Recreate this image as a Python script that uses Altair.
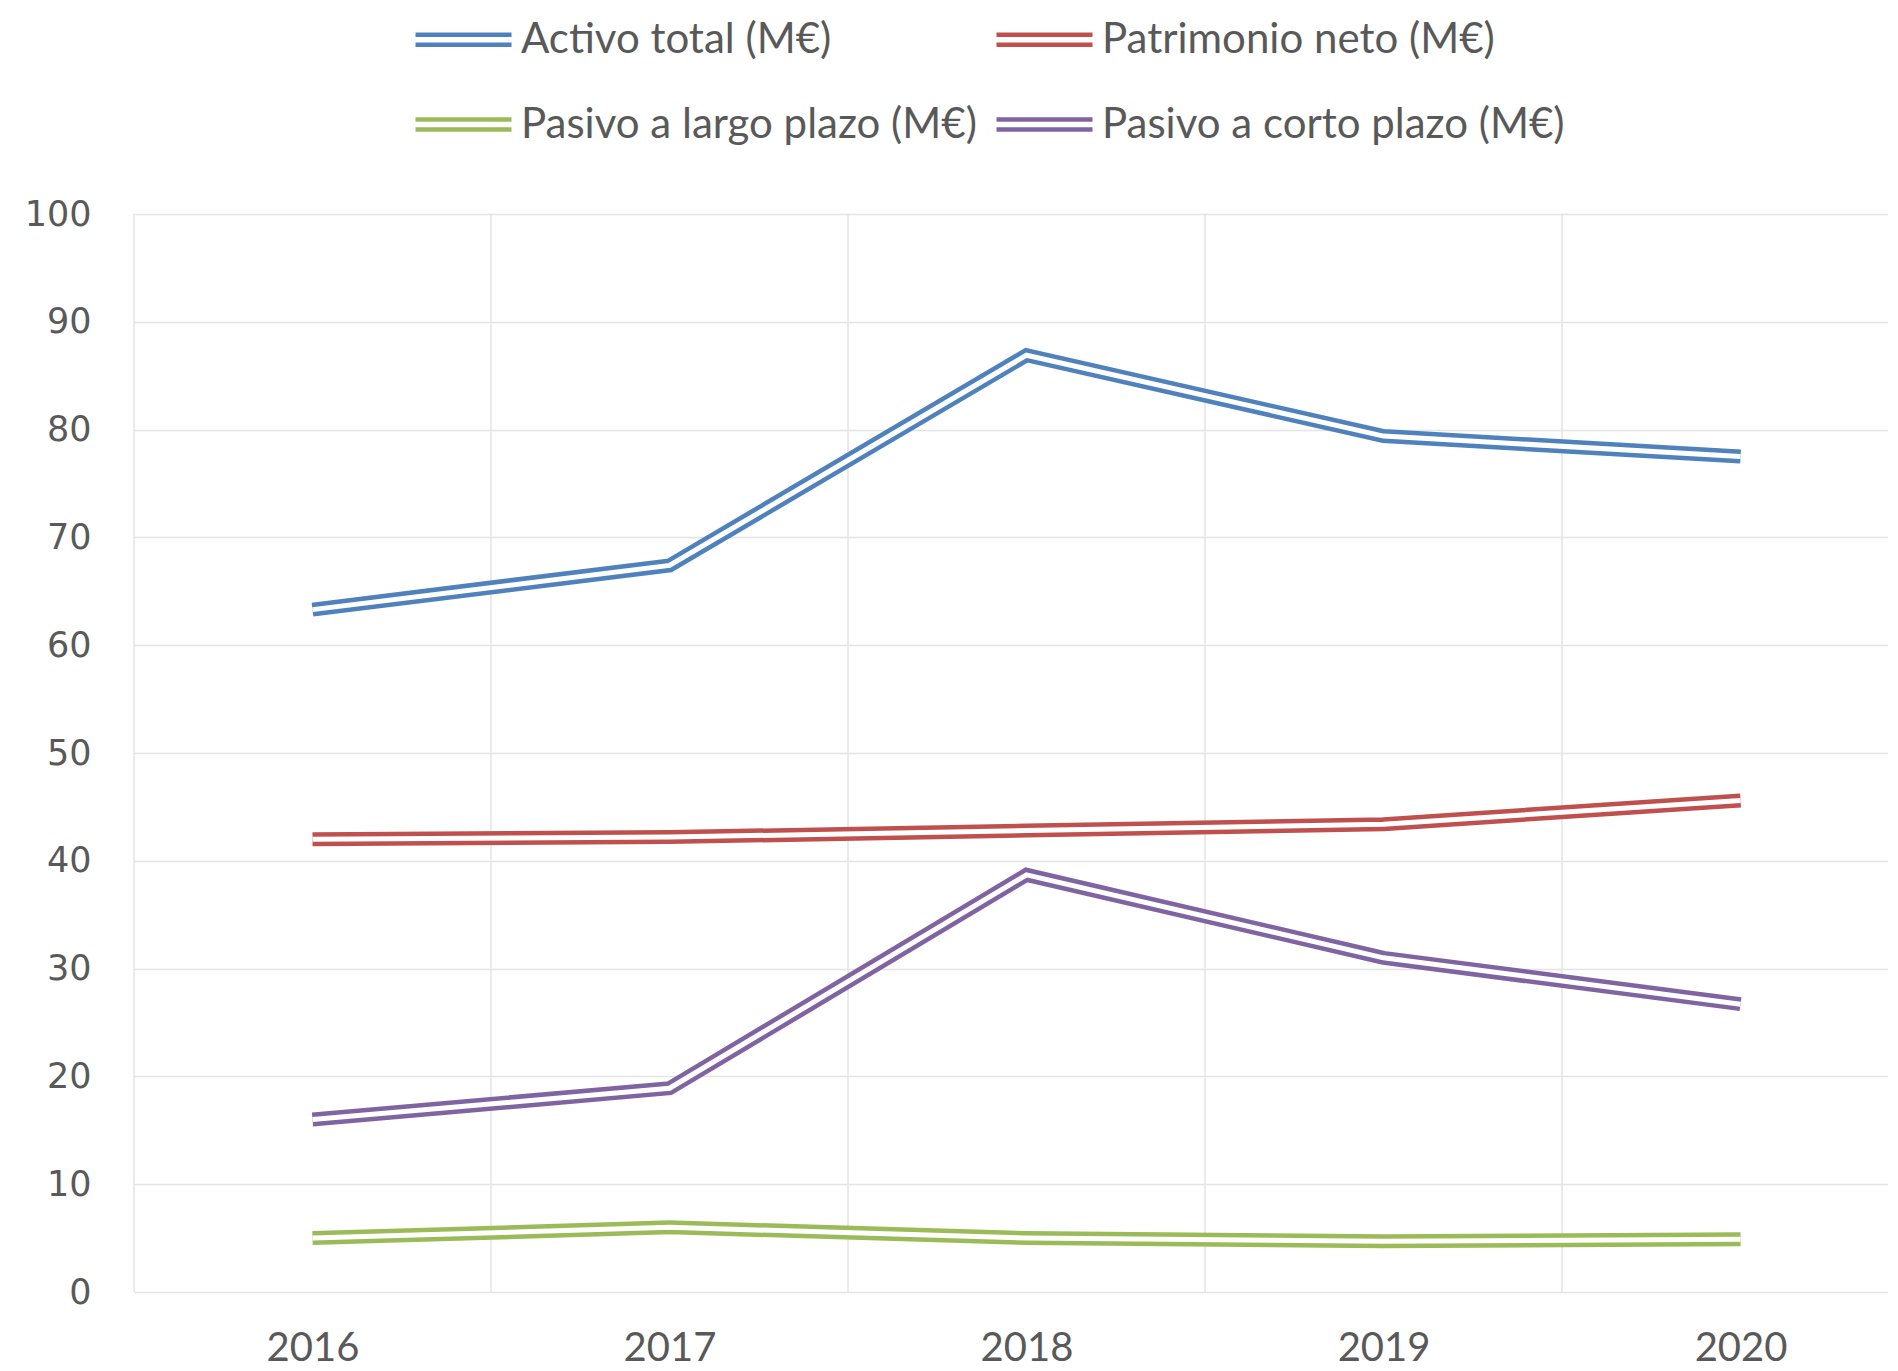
import altair as alt
import pandas as pd

years = [2016, 2017, 2018, 2019, 2020]
series_names = [
    "Activo total (M€)",
    "Patrimonio neto (M€)",
    "Pasivo a largo plazo (M€)",
    "Pasivo a corto plazo (M€)",
]
activo_total = [63.3, 67.4, 86.9, 79.4, 77.5]
patrimonio_neto = [42.0, 42.2, 42.8, 43.4, 45.6]
pasivo_largo = [5.0, 6.0, 5.0, 4.7, 4.9]
pasivo_corto = [16.0, 18.9, 38.7, 31.0, 26.7]
colors = ["#4F81BD", "#C0504D", "#9BBB59", "#8064A2"]
y_ticks = list(range(0, 101, 10))
category_bounds = [2015.5, 2016.5, 2017.5, 2018.5, 2019.5]

values = [activo_total, patrimonio_neto, pasivo_largo, pasivo_corto]
rows = []
for name, vals in zip(series_names, values):
    for yr, v in zip(years, vals):
        rows.append({"year": yr, "value": v, "series": name})
df = pd.DataFrame(rows)
bounds_df = pd.DataFrame({"year": category_bounds})

xscale = alt.Scale(domain=[2015.5, 2020.413], nice=False, zero=False)
yscale = alt.Scale(domain=[0, 100], nice=False, zero=True)

grid_color = "#E4E4E4"

x_axis = alt.Axis(
    values=years,
    format="d",
    grid=False,
    ticks=False,
    domain=False,
    labelFont="Lato",
    labelFontSize=40,
    labelColor="#595959",
    labelPadding=36,
    labelBaseline="top",
    title=None,
)
y_axis = alt.Axis(
    values=y_ticks,
    grid=True,
    gridColor=grid_color,
    gridWidth=1.5,
    ticks=False,
    domain=False,
    labelFont="DejaVu Sans",
    labelFontSize=35,
    labelColor="#595959",
    labelPadding=43,
    title=None,
)

x_enc = alt.X("year:Q", scale=xscale, axis=x_axis, title=None)
y_enc = alt.Y("value:Q", scale=yscale, axis=y_axis, title=None)

vgrid = alt.Chart(bounds_df).mark_rule(color=grid_color, strokeWidth=1.5).encode(
    x=x_enc
)

outer = alt.Chart(df).mark_line(strokeWidth=14, strokeJoin="miter").encode(
    x=x_enc,
    y=y_enc,
    color=alt.Color(
        "series:N",
        scale=alt.Scale(domain=series_names, range=colors),
        legend=alt.Legend(
            orient="none",
            legendX=303,
            legendY=-201,
            direction="horizontal",
            title=None,
            columns=2,
            symbolType="M-2,-0.2083H2M-2,0.2083H2",
            symbolSize=2304,
            symbolStrokeWidth=4.5,
            labelFont="Lato",
            labelFontSize=42,
            labelColor="#595959",
            labelOffset=31,
            columnPadding=10,
            rowPadding=37,
            padding=0,
            labelLimit=0,
        ),
    ),
    detail="series:N",
)

inner = alt.Chart(df).mark_line(strokeWidth=5, color="white", strokeJoin="miter").encode(
    x=x_enc,
    y=y_enc,
    detail="series:N",
)

chart = (
    alt.layer(vgrid, outer, inner)
    .properties(
        width=1754,
        height=1078,
        padding={"left": 126, "top": 206, "right": 0, "bottom": 76},
        autosize=alt.AutoSizeParams(type="none"),
        background="white",
    )
    .configure_view(stroke=None)
)

chart.save("out.html", embed_options={"renderer": "svg", "actions": False})
